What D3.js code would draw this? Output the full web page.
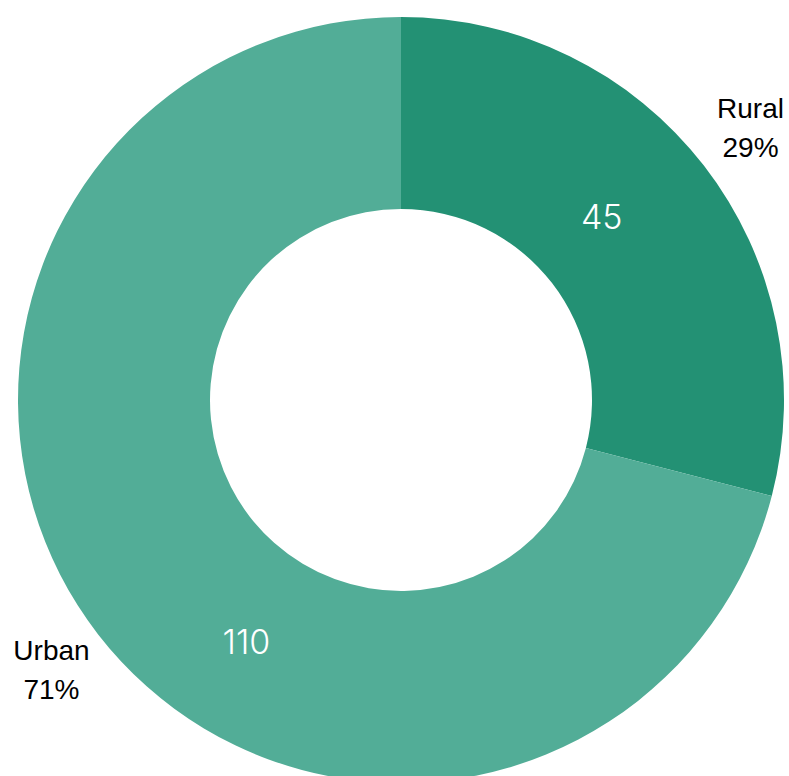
<!DOCTYPE html>
<html>
<head>
<meta charset="utf-8">
<script src="https://cdn.jsdelivr.net/npm/d3@7"></script>
<style>
  body { margin: 0; background: #fff; }
  svg { display: block; }
</style>
</head>
<body>
<div id="chart"></div>
<script>
(function() {
  var categories = ["Rural", "Urban"]
  var values = [45, 110]
  var colours = ["#239174", "#52ad97"]

  var width = 789,
      height = 776

  var cx = 401, cy = 400
  var outerR = 383, innerR = 191

  var svg = d3.select("#chart").append("svg")
      .attr("width", width)
      .attr("height", height)
      .append("g")
      .attr("transform", "translate(" + cx + "," + cy + ")")

  var colourScale = d3.scaleOrdinal()
      .domain(categories)
      .range(colours)

  var total = d3.sum(values)
  var datapoints = categories.map(function(c, i) {
    return { name: c, value: values[i] }
  })

  var pie = d3.pie().sort(null).value(function(d) { return d.value })
  var arc = d3.arc().innerRadius(innerR).outerRadius(outerR)

  var slices = pie(datapoints)

  svg.selectAll(".slice")
    .data(slices)
    .enter().append("path")
    .attr("class", "slice")
    .attr("d", arc)
    .attr("fill", function(d) { return colourScale(d.data.name) })

  function polar(angle, r) {
    return [Math.sin(angle) * r, -Math.cos(angle) * r]
  }

  // value labels sit a little before the middle of each slice
  var valueFrac = [0.455, 0.423],
      valueR = [272, 287]

  svg.selectAll(".value-label")
    .data(slices)
    .enter().append("text")
    .attr("class", "value-label")
    .attr("transform", function(d, i) {
      var a = d.startAngle + (d.endAngle - d.startAngle) * valueFrac[i]
      var p = polar(a, valueR[i])
      return "translate(" + p[0] + "," + p[1] + ")"
    })
    .attr("text-anchor", "middle")
    .attr("dy", "0.36em")
    .attr("fill", "#fff")
    .style("font-family", "Inter, sans-serif")
    .style("font-weight", 300)
    .style("font-size", "34px")
    .text(function(d) { return d.data.value })

  var outer = svg.selectAll(".outer-label")
    .data(slices)
    .enter().append("text")
    .attr("class", "outer-label")
    .attr("transform", function(d) {
      var p = polar((d.startAngle + d.endAngle) / 2, 442)
      return "translate(" + p[0] + "," + p[1] + ")"
    })
    .attr("text-anchor", "middle")
    .attr("fill", "#000")
    .style("font-family", "'Liberation Sans', Arial, sans-serif")
    .style("font-size", "28px")

  outer.append("tspan")
    .attr("x", 0)
    .attr("y", -11)
    .text(function(d) { return d.data.name })

  outer.append("tspan")
    .attr("x", 0)
    .attr("y", 28)
    .text(function(d) { return Math.round(d.data.value / total * 100) + "%" })
})()
</script>
</body>
</html>
